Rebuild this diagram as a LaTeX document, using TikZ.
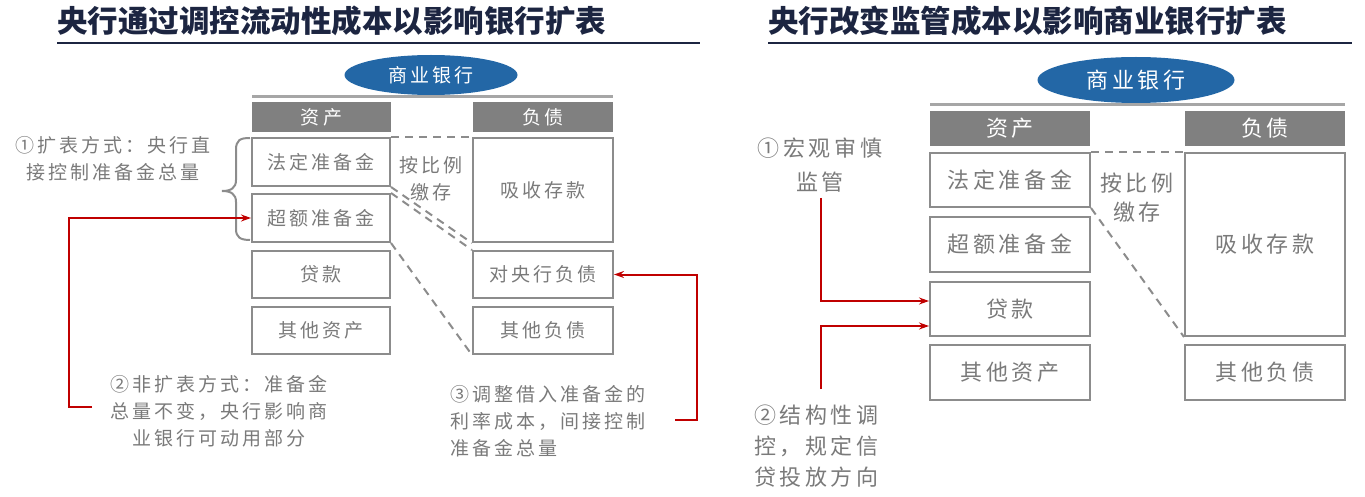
\documentclass[tikz,border=0pt]{standalone}
\usepackage{fontspec}
\usetikzlibrary{arrows.meta,calc,shapes.geometric}
\newfontfamily\cjk{Noto Sans CJK SC}
\newfontfamily\cjksp[LetterSpace=16]{Noto Sans CJK SC}
\definecolor{titlenavy}{HTML}{1C2541}
\definecolor{boxgray}{HTML}{8C8C8C}
\definecolor{hdrgray}{HTML}{808080}
\definecolor{linegray}{HTML}{A6A6A6}
\definecolor{txtgray}{HTML}{7A7A7A}
\definecolor{bankblue}{HTML}{2367A6}
\definecolor{arrred}{HTML}{C00000}
\tikzset{
  titletext/.style={anchor=west,inner sep=0pt,text=titlenavy,font=\cjk\bfseries\fontsize{30.5}{34}\selectfont},
  titlerule/.style={draw=titlenavy,line width=2pt},
  lbox/.style={draw=boxgray,line width=2pt,inner sep=0pt,text=txtgray,font=\cjksp\fontsize{19}{25}\selectfont},
  rbox/.style={draw=boxgray,line width=2pt,inner sep=0pt,text=txtgray,font=\cjksp\fontsize{22}{28}\selectfont},
  lhdr/.style={fill=hdrgray,inner sep=0pt,text=white,font=\cjksp\fontsize{19}{25}\selectfont},
  rhdr/.style={fill=hdrgray,inner sep=0pt,text=white,font=\cjksp\fontsize{22}{28}\selectfont},
  bankoval/.style={ellipse,fill=bankblue,inner sep=0pt,text=white},
  toprule/.style={draw=linegray,line width=3pt},
  dashlink/.style={draw=boxgray,line width=2pt,dash pattern=on 8pt off 6pt},
  ltext/.style={inner sep=0pt,text=txtgray,font=\cjksp\fontsize{19}{27}\selectfont},
  rtext/.style={inner sep=0pt,text=txtgray,font=\cjksp\fontsize{22}{31}\selectfont},
  redarrow/.style={draw=arrred,line width=2pt,-{Stealth[length=10pt,width=7pt]}},
  bracepath/.style={draw=boxgray,line width=2pt}
}
\begin{document}
\begin{tikzpicture}[x=1pt,y=-1pt]
\useasboundingbox (0,0) rectangle (1365,497);
% ---------- titles ----------
\node[titletext] (tL) at (57,21) {央行通过调控流动性成本以影响银行扩表};
\node[titletext] (tR) at (768,21) {央行改变监管成本以影响商业银行扩表};
\coordinate (uL1) at (57,43); \coordinate (uL2) at (700,43);
\coordinate (uR1) at (768,43); \coordinate (uR2) at (1352,43);
\draw[titlerule] (uL1) -- (uL2);
\draw[titlerule] (uR1) -- (uR2);

% ---------- left panel ----------
\node[bankoval,minimum width=173pt,minimum height=40pt,font=\cjksp\fontsize{19}{25}\selectfont] (Lbank) at (431,75) {商业银行};
\coordinate (Ltl1) at (252,97); \coordinate (Ltl2) at (613,97);
\draw[toprule] (Ltl1) -- (Ltl2);
\node[lhdr,minimum width=139pt,minimum height=30pt] (Lzc) at (321.5,117) {资产};
\node[lhdr,minimum width=140pt,minimum height=30pt] (Lfz) at (543,117) {负债};
\node[lbox,minimum width=138pt,minimum height=48pt] (Lfd) at (321,162) {法定准备金};
\node[lbox,minimum width=138pt,minimum height=48pt] (Lce) at (321,218) {超额准备金};
\node[lbox,minimum width=138pt,minimum height=47pt] (Ldk) at (321,274.5) {贷款};
\node[lbox,minimum width=138pt,minimum height=47pt] (Lqz) at (321,330.5) {其他资产};
\node[lbox,minimum width=140pt,minimum height=104pt] (Lxs) at (543,190) {吸收存款};
\node[lbox,minimum width=140pt,minimum height=47pt] (Ldy) at (543,274.5) {对央行负债};
\node[lbox,minimum width=140pt,minimum height=47pt] (Lqf) at (543,330.5) {其他负债};
\node[ltext,align=center] (Lblj) at (431,179) {按比例\\缴存};
\draw[dashlink] (Lfd.north east) -- (Lxs.north west);
\draw[dashlink] (Lfd.south east) -- (Lxs.south west);
\draw[dashlink] (Lce.north east) -- (Ldy.north west);
\draw[dashlink] (Lce.south east) -- (Lqf.south west);
% brace
\draw[bracepath] (250,138) .. controls (240,138) and (236,140) .. (236,150) -- (236,180)
  .. controls (236,188) and (231,191) .. (222,191)
  .. controls (231,191) and (236,194) .. (236,202) -- (236,229)
  .. controls (236,237) and (240,240) .. (250,240);
\node[ltext,align=center] (La1) at (113,159) {①扩表方式：央行直\\接控制准备金总量};
\node[ltext,align=center] (La2) at (219,411) {②非扩表方式：准备金\\总量不变，央行影响商\\业银行可动用部分};
\node[ltext,align=left,anchor=west] (La3) at (450,421.5) {③调整借入准备金的\\利率成本，间接控制\\准备金总量};
\coordinate (La2s) at (92,407); \coordinate (La2c) at (69,407);
\draw[redarrow] (La2s) -- (La2c) |- (Lce.west);
\coordinate (La3s) at (675,420); \coordinate (La3c) at (697,420);
\draw[redarrow] (La3s) -- (La3c) |- (Ldy.east);

% ---------- right panel ----------
\node[bankoval,minimum width=197pt,minimum height=46pt,font=\cjksp\fontsize{22}{28}\selectfont] (Rbank) at (1136,80) {商业银行};
\coordinate (Rtl1) at (930,105); \coordinate (Rtl2) at (1345,105);
\draw[toprule] (Rtl1) -- (Rtl2);
\node[rhdr,minimum width=160pt,minimum height=35pt] (Rzc) at (1010,128.5) {资产};
\node[rhdr,minimum width=160pt,minimum height=35pt] (Rfz) at (1265,128.5) {负债};
\node[rbox,minimum width=160pt,minimum height=54pt] (Rfd) at (1010,180) {法定准备金};
\node[rbox,minimum width=160pt,minimum height=55pt] (Rce) at (1010,244.5) {超额准备金};
\node[rbox,minimum width=160pt,minimum height=54pt] (Rdk) at (1010,309) {贷款};
\node[rbox,minimum width=160pt,minimum height=55pt] (Rqz) at (1010,372.5) {其他资产};
\node[rbox,minimum width=160pt,minimum height=183pt] (Rxs) at (1265,244.5) {吸收存款};
\node[rbox,minimum width=160pt,minimum height=55pt] (Rqf) at (1265,372.5) {其他负债};
\node[rtext,align=center,font=\cjksp\fontsize{22}{29}\selectfont] (Rblj) at (1137,197.5) {按比例\\缴存};
\draw[dashlink] (Rfd.north east) -- (Rxs.north west);
\draw[dashlink] (Rfd.south east) -- (Rxs.south west);
\node[rtext,align=center,font=\cjksp\fontsize{22}{34}\selectfont] (Ra1) at (820,165) {①宏观审慎\\监管};
\node[rtext,align=left,anchor=west] (Ra2) at (754,446) {②结构性调\\控，规定信\\贷投放方向};
\coordinate (Ra1s) at (821,198);
\coordinate (Ra2s) at (821,389);
\draw[redarrow] (Ra1s) |- ($(Rdk.west)+(0,-8)$);
\draw[redarrow] (Ra2s) |- ($(Rdk.west)+(0,17)$);
\end{tikzpicture}
\end{document}
